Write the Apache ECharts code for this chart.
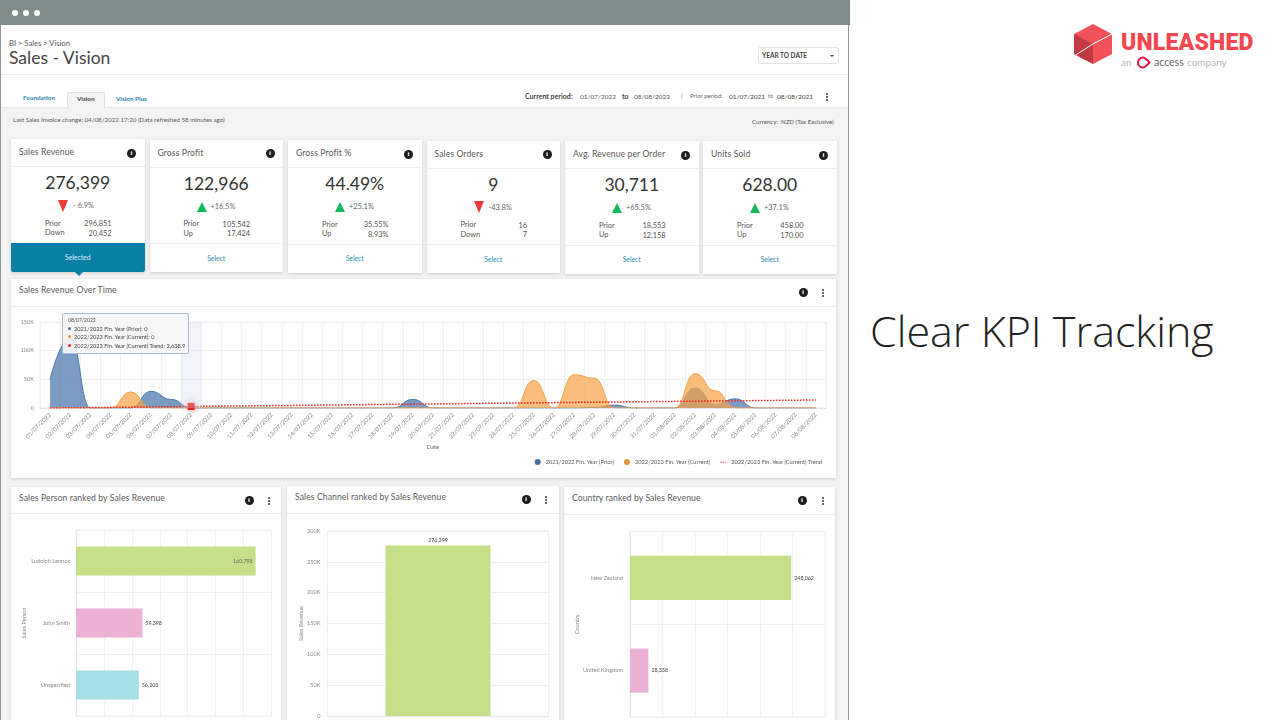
<!DOCTYPE html>
<html>
<head>
<meta charset="UTF-8">
<title>Sales - Vision</title>
<script src="https://cdn.jsdelivr.net/npm/echarts@6/dist/echarts.min.js"></script>
<style>
html,body{margin:0;padding:0;width:1280px;height:720px;overflow:hidden;background:#fff;font-family:Lato,"Open Sans",sans-serif;color:#444}
.a{position:absolute;white-space:nowrap}
#main{position:absolute;left:0;top:0;width:1280px;height:720px;z-index:5}
.card,.panel{position:absolute;background:#fff;box-shadow:0 1px 3px rgba(0,0,0,.16)}
.info{position:absolute;width:9px;height:9px;border-radius:50%;background:#1c1c1c;color:#fff;font:bold 7px/9px "Liberation Serif",serif;text-align:center}
.dots{position:absolute;width:2px;height:2px;background:#333;border-radius:50%;box-shadow:0 -3px 0 #333,0 3px 0 #333}
.up{position:absolute;width:0;height:0;border-left:5px solid transparent;border-right:5px solid transparent;border-bottom:10px solid #16b85c}
.down{position:absolute;width:0;height:0;border-left:5.5px solid transparent;border-right:5.5px solid transparent;border-top:12px solid #ef3b3b}
</style>
</head>
<body>
<div id="page"></div>
<div id="main"></div>
<script type="text/javascript">
// kpi cards
var kpiTitles = ['Sales Revenue', 'Gross Profit', 'Gross Profit %', 'Sales Orders', 'Avg. Revenue per Order', 'Units Sold'];
var kpiValues = ['276,399', '122,966', '44.49%', '9', '30,711', '628.00'];
var kpiChange = ['- 6.9%', '+16.5%', '+25.1%', '-43.8%', '+65.5%', '+37.1%'];
var kpiPrior = ['296,851', '105,542', '35.55%', '16', '18,553', '458.00'];
var kpiDiffLabel = ['Down', 'Up', 'Up', 'Down', 'Up', 'Up'];
var kpiDiff = ['20,452', '17,424', '8.93%', '7', '12,158', '170.00'];

// revenue over time
var dates = ['01/07/2022', '02/07/2022', '03/07/2022', '04/07/2022', '05/07/2022', '06/07/2022', '07/07/2022', '08/07/2022',
  '09/07/2022', '10/07/2022', '11/07/2022', '12/07/2022', '13/07/2022', '14/07/2022', '15/07/2022', '16/07/2022',
  '17/07/2022', '18/07/2022', '19/07/2022', '20/07/2022', '21/07/2022', '22/07/2022', '23/07/2022', '24/07/2022',
  '25/07/2022', '26/07/2022', '27/07/2022', '28/07/2022', '29/07/2022', '30/07/2022', '31/07/2022', '01/08/2022',
  '02/08/2022', '03/08/2022', '04/08/2022', '05/08/2022', '06/08/2022', '07/08/2022', '08/08/2022'];
var priorYear = [50000, 122000, 0, 0, 0, 29000, 15000, 0, 0, 0, 0, 0, 0, 0, 0, 0, 0, 0, 15000, 0, 0, 0, 0, 0, 0, 0, 0, 1000, 5000, 0, 0, 0, 35000, 6000, 16000, 0, 0, 0, 0];
var currentYear = [0, 0, 0, 0, 28000, 0, 0, 0, 0, 0, 0, 0, 0, 0, 0, 0, 0, 0, 0, 0, 0, 0, 0, 0, 48000, 0, 58000, 52000, 0, 0, 0, 0, 60000, 30000, 0, 0, 0, 0, 0];
// trend only read at a few spots, the line joins them
var trend = [0, null, null, null, null, null, null, 2638.9, null, null, null, null, null, null, null, null, null, null, 6800, null, null, null, null, null, null, null, null, null, 10500, null, null, null, null, null, null, null, null, null, 14000];
var hoverIndex = 7;
var priorName = '2021/2022 Fin. Year (Prior)';
var currentName = '2022/2023 Fin. Year (Current)';
var trendName = '2022/2023 Fin. Year (Current) Trend';

// ranked charts
var people = ['Ludolph Lennox', 'John Smith', 'Unspecified'];
var peopleRevenue = [160798, 59398, 56203];
var channelRevenue = [276399];
var countries = ['New Zealand', 'United Kingdom'];
var countryRevenue = [248062, 28338];

var green = '#c5e088', pink = '#ecb2d5', aqua = '#a5dfe6';
var gridLine = '#eef0f4', axisText = '#8a8a8a';

function txt(x, y, s, size, color, extra) {
  return '<div class="a" style="left:' + x + 'px;top:' + (y - size * 0.7) + 'px;font-size:' + size + 'px;line-height:' + (size * 1.4) + 'px;color:' + color + ';' + (extra || '') + '">' + s + '</div>';
}
function box(x, y, w, h, css) {
  return '<div class="a" style="left:' + x + 'px;top:' + y + 'px;width:' + w + 'px;height:' + h + 'px;' + css + '"></div>';
}
function panel(x, y, w, h, title, infoX, dotsX, headH) {
  var s = '<div class="panel" style="left:' + x + 'px;top:' + y + 'px;width:' + w + 'px;height:' + h + 'px"></div>';
  s += box(x, y + headH, w, 1, 'background:#eeeeee');
  s += txt(x + 8, y + 11, title, 8.6, '#5a5a5a', 'letter-spacing:.1px');
  s += '<div class="info" style="left:' + infoX + 'px;top:' + (y + 8.5) + 'px">i</div>';
  s += '<div class="dots" style="left:' + dotsX + 'px;top:' + (y + 12.5) + 'px"></div>';
  return s;
}

var h = '';
// window frame
h += box(0, 0, 850, 25, 'background:#7f8c8a');
h += box(0, 25, 849, 695, 'background:#f3f3f3;border-left:1px solid #8d9896;border-right:1px solid #8d9896;box-sizing:border-box');
h += box(1, 25, 847, 82, 'background:#fff');
h += box(1, 74, 847, 1, 'background:#eeeeee');
h += box(1, 107, 847, 1, 'background:#e6e6e6');
[15, 26, 37].forEach(function (x) { h += box(x - 3, 9.5, 6, 6, 'background:#fff;border-radius:50%'); });
h += txt(9, 43.5, 'BI &gt; Sales &gt; Vision', 7.6, '#555');
h += txt(9, 58, 'Sales - Vision', 17.5, '#444');
h += box(758, 47, 81, 17, 'background:#fff;border:1px solid #e4e4e4;border-radius:2px;box-sizing:border-box');
h += txt(762, 56, 'YEAR TO DATE', 6.5, '#444', 'font-weight:700');
h += box(830, 55, 0, 0, 'border-left:2px solid transparent;border-right:2px solid transparent;border-top:2.5px solid #444');
// tabs
h += box(67, 92, 38, 16, 'background:#f3f3f3;border:1px solid #e2e2e2;border-bottom:none;border-radius:2px 2px 0 0;box-sizing:border-box');
h += txt(23, 98.5, 'Foundation', 6.3, '#1f86ad', 'font-weight:700');
h += txt(77, 99, 'Vision', 6.3, '#444', 'font-weight:700');
h += txt(116, 99, 'Vision Plus', 6.3, '#1f86ad', 'font-weight:700');
// period line
h += txt(525, 96.5, 'Current period:', 7, '#444', 'font-weight:700');
h += txt(580, 96.5, '01/07/2022', 6.5, '#555');
h += txt(622, 96.5, 'to', 7, '#444', 'font-weight:700');
h += txt(634, 96.5, '08/08/2022', 6.5, '#555');
h += txt(681, 96.5, '|', 5.5, '#777');
h += txt(690, 96.5, 'Prior period:', 6, '#666');
h += txt(729, 96.5, '01/07/2021', 6.5, '#444');
h += txt(768, 96.5, 'to', 5.5, '#666');
h += txt(777, 96.5, '08/08/2021', 6.5, '#444');
h += '<div class="dots" style="left:825.5px;top:96px"></div>';
h += txt(13, 120.5, 'Last Sales Invoice change: 04/08/2022 17:20 (Data refreshed 58 minutes ago)', 6.2, '#555');
h += txt(752, 122.5, 'Currency:&nbsp; NZD (Tax Exclusive)', 6.1, '#555');

// kpi cards
var cardX = [11, 149.5, 288, 426.5, 565, 703];
var cardY = [139, 139.5, 140, 140.5, 141, 141];
kpiTitles.forEach(function (t, i) {
  var x = cardX[i], y = cardY[i], w = 133.5, isUp = kpiChange[i].charAt(0) == '+';
  h += '<div class="card" style="left:' + x + 'px;top:' + y + 'px;width:' + w + 'px;height:132.5px"></div>';
  h += box(x, y + 27, w, 1, 'background:#efefef');
  h += box(x, y + 103.5, w, 1, 'background:#efefef');
  h += txt(x + 8, y + 13.5, t, 8.6, '#5a5a5a', 'letter-spacing:.1px');
  h += '<div class="info" style="left:' + (x + 116) + 'px;top:' + (y + 9.5) + 'px">i</div>';
  h += '<div class="a" style="left:' + x + 'px;width:' + w + 'px;top:' + (y + 31) + 'px;text-align:center;font-size:17.5px;line-height:26px;color:#333">' + kpiValues[i] + '</div>';
  h += '<div class="' + (isUp ? 'up' : 'down') + '" style="left:' + (x + 47) + 'px;top:' + (y + (isUp ? 62 : 60.5)) + 'px"></div>';
  h += txt(x + (isUp ? 61 : 62), y + 67.5, kpiChange[i], 7.4, '#666');
  h += txt(x + 34, y + 85, 'Prior', 7.4, '#555');
  h += txt(x + 34, y + 94.5, kpiDiffLabel[i], 7.4, '#555');
  h += '<div class="a" style="left:' + x + 'px;width:' + (w - 33) + 'px;top:' + (y + 80) + 'px;text-align:right;font-size:7.4px;line-height:10px;color:#555">' + kpiPrior[i] + '</div>';
  h += '<div class="a" style="left:' + x + 'px;width:' + (w - 33) + 'px;top:' + (y + 89.5) + 'px;text-align:right;font-size:7.4px;line-height:10px;color:#555">' + kpiDiff[i] + '</div>';
  if (i == 0) {
    h += box(x, y + 104, w, 28.5, 'background:#0a7fa6;border-radius:0 0 2px 2px');
    h += box(x + 63.5, y + 132.5, 0, 0, 'border-left:4px solid transparent;border-right:4px solid transparent;border-top:4px solid #0a7fa6');
    h += '<div class="a" style="left:' + x + 'px;width:' + w + 'px;top:' + (y + 113) + 'px;text-align:center;font-size:6.8px;line-height:10px;color:#d8eef5">Selected</div>';
  } else {
    h += '<div class="a" style="left:' + x + 'px;width:' + w + 'px;top:' + (y + 113) + 'px;text-align:center;font-size:6.8px;line-height:10px;color:#2b8fb3">Select</div>';
  }
});

// chart panels
h += panel(11, 279, 825, 199, 'Sales Revenue Over Time', 798.5, 822, 27);
h += panel(11, 487, 270, 240, 'Sales Person ranked by Sales Revenue', 244.5, 268, 26);
h += panel(287, 486, 272, 240, 'Sales Channel ranked by Sales Revenue', 521.5, 545, 27);
h += panel(564, 487, 271, 240, 'Country ranked by Sales Revenue', 797.5, 822, 27);

// right side of the slide
h += txt(870, 331, 'Clear KPI Tracking', 43, '#222', 'font-family:\'Open Sans\';font-weight:300');
h += '<svg class="a" style="left:1072px;top:22px" width="44" height="44" viewBox="0 0 44 44">' +
  '<polygon points="21,2 40,12 40,32 21,42 2,32 2,12" fill="#f4525a"/>' +
  '<polygon points="2,12 21,22 21,42 2,32" fill="#c23a41"/>' +
  '<polyline points="2,34 21,22 40,12" fill="none" stroke="#fff" stroke-width="1"/></svg>';
h += txt(1121, 43.5, 'UNLEASHED', 23, '#f4474f', 'font-family:Roboto;font-weight:900;letter-spacing:.2px');
h += txt(1121, 62, 'an', 10, '#b9b9b9');
h += '<svg class="a" style="left:1135px;top:56px" width="17" height="13" viewBox="0 0 17 13"><path d="M8 1.5a5 5 0 1 0 0 10c2.3 0 3.6-2 6.5-5-2.9-3-4.2-5-6.5-5z" fill="none" stroke="#e0123f" stroke-width="2"/></svg>';
h += txt(1154, 62, 'access', 10.5, '#666');
h += txt(1187, 62, 'company', 10, '#b9b9b9');
document.getElementById('page').innerHTML = h;

var labelFont = { fontFamily: 'Lato', fontSize: 5.6, color: axisText };
function splits() { return { show: true, lineStyle: { color: gridLine, width: 1 } }; }
function valueLabel(pos, color) {
  return { show: true, position: pos, distance: 3, fontFamily: 'Lato', fontSize: 5.3, color: color || '#444',
    formatter: function (p) { return p.value.toLocaleString('en-US'); } };
}
function kLabel(v) { return v == 0 ? '0' : (v / 1000) + 'K'; }
function colored(values, colors) {
  return values.map(function (v, i) { return { value: v, itemStyle: { color: colors[i] } }; });
}

var myChart = echarts.init(document.getElementById('main'), null, { renderer: 'canvas' });
var option = {
  animation: false,
  backgroundColor: 'transparent',
  textStyle: { fontFamily: 'Lato' },
  grid: [
    { left: 40, top: 322, width: 786, height: 86, show: true, borderColor: gridLine, borderWidth: 1 },
    { left: 76, top: 530, width: 195.5, height: 186, show: true, borderColor: gridLine, borderWidth: 1 },
    { left: 327.5, top: 531, width: 221, height: 185, show: true, borderColor: gridLine, borderWidth: 1 },
    { left: 630, top: 531.5, width: 195, height: 185.5, show: true, borderColor: gridLine, borderWidth: 1 }
  ],
  tooltip: {
    trigger: 'axis',
    triggerOn: 'none',
    alwaysShowContent: true,
    transitionDuration: 0,
    axisPointer: { type: 'shadow', shadowStyle: { color: 'rgba(205,216,238,0.3)' } },
    position: function () { return [62, 312.5]; },
    backgroundColor: 'rgba(246,246,246,0.92)',
    borderColor: '#a9bbd0',
    borderWidth: 1.5,
    borderRadius: 2,
    padding: [3, 3, 3, 5],
    extraCssText: 'box-shadow:none;',
    textStyle: { fontFamily: 'Lato', fontSize: 5.65, color: '#444' },
    formatter: function (params) {
      var s = '<div style="font-size:5px;line-height:7.5px">' + params[0].axisValue + '</div>';
      params.forEach(function (p) {
        var v = p.value == null ? 0 : p.value;
        var shown = v.toLocaleString('en-US', { maximumFractionDigits: 1 });
        s += '<div style="line-height:8.5px"><span style="display:inline-block;width:3px;height:3px;border-radius:50%;margin-right:3px;vertical-align:1px;background:' + p.color + '"></span>' + p.seriesName + ': ' + shown + '</div>';
      });
      return s;
    }
  },
  legend: {
    right: 453,
    top: 454,
    itemGap: 10,
    itemWidth: 6,
    itemHeight: 6,
    textStyle: { fontFamily: 'Lato', fontSize: 5.7, color: '#555' },
    data: [{ name: priorName, icon: 'circle' }, { name: currentName, icon: 'circle' },
      { name: trendName, icon: 'path://M0 0h2v1H0zM3 0h2v1H3zM6 0h2v1H6z' }]
  },
  xAxis: [
    {
      gridIndex: 0, type: 'category', data: dates, name: 'Date', nameLocation: 'middle', nameGap: 36, nameMoveOverlap: false,
      nameTextStyle: { fontFamily: 'Lato', fontSize: 5.8, color: '#666' },
      axisTick: { show: false }, axisLine: { lineStyle: { color: '#dfe6f0' } }, splitLine: splits(),
      axisLabel: { interval: 0, rotate: 45, fontFamily: 'Lato', fontSize: 6, color: axisText, margin: 6 }
    },
    { gridIndex: 1, type: 'value', min: 0, max: 175000, interval: 25000, axisLabel: { show: false }, axisLine: { show: false }, axisTick: { show: false }, splitLine: splits() },
    { gridIndex: 2, type: 'category', data: ['Sales Channel'], axisLabel: { show: false }, axisTick: { show: false }, axisLine: { lineStyle: { color: '#dfe6f0' } }, splitLine: { show: false } },
    { gridIndex: 3, type: 'value', min: 0, max: 300000, interval: 50000, axisLabel: { show: false }, axisLine: { show: false }, axisTick: { show: false }, splitLine: splits() }
  ],
  yAxis: [
    {
      gridIndex: 0, type: 'value', min: 0, max: 150000, interval: 50000,
      axisLabel: Object.assign({ formatter: kLabel, margin: 6 }, labelFont),
      axisLine: { show: false }, axisTick: { show: false }, splitLine: splits()
    },
    {
      gridIndex: 1, type: 'category', data: people, inverse: true, name: 'Sales Person', nameLocation: 'middle', nameGap: 48.5, nameMoveOverlap: false,
      nameTextStyle: labelFont, axisLabel: Object.assign({ margin: 6 }, labelFont),
      axisTick: { show: false }, axisLine: { lineStyle: { color: '#dfe6f0' } }, splitLine: splits()
    },
    {
      gridIndex: 2, type: 'value', min: 0, max: 300000, interval: 50000, name: 'Sales Revenue', nameLocation: 'middle', nameGap: 23, nameMoveOverlap: false,
      nameTextStyle: labelFont, axisLabel: Object.assign({ formatter: kLabel, margin: 7 }, labelFont),
      axisLine: { show: false }, axisTick: { show: false }, splitLine: splits()
    },
    {
      gridIndex: 3, type: 'category', data: countries, inverse: true, name: 'Country', nameLocation: 'middle', nameGap: 50, nameMoveOverlap: false,
      nameTextStyle: labelFont, axisLabel: Object.assign({ margin: 7 }, labelFont),
      axisTick: { show: false }, axisLine: { lineStyle: { color: '#dfe6f0' } }, splitLine: splits()
    }
  ],
  series: [
    {
      name: priorName, type: 'line', xAxisIndex: 0, yAxisIndex: 0, data: priorYear, smooth: true, smoothMonotone: 'x',
      symbol: 'none', z: 2, itemStyle: { color: '#466f9f' }, lineStyle: { color: '#466f9f', width: 1 },
      areaStyle: { color: '#466f9f', opacity: 0.75 }
    },
    {
      name: currentName, type: 'line', xAxisIndex: 0, yAxisIndex: 0, data: currentYear, smooth: true, smoothMonotone: 'x',
      symbol: 'none', z: 3, itemStyle: { color: '#e0943f' }, lineStyle: { color: '#e0943f', width: 1 },
      areaStyle: { color: '#e0943f', opacity: 0.7 }
    },
    {
      name: trendName, type: 'line', xAxisIndex: 0, yAxisIndex: 0, data: trend, connectNulls: true,
      symbol: 'none', z: 4, itemStyle: { color: '#f02020' }, lineStyle: { color: '#f02020', width: 1.5, type: [1.5, 1.5] },
      markPoint: {
        symbol: 'rect', symbolSize: 7, silent: true, label: { show: false },
        itemStyle: { color: '#f51a1a', shadowBlur: 7, shadowColor: 'rgba(200,60,60,0.7)' },
        data: [{ coord: [dates[hoverIndex], trend[hoverIndex]] }]
      }
    },
    {
      type: 'bar', xAxisIndex: 1, yAxisIndex: 1, barWidth: '47%', silent: true,
      data: colored(peopleRevenue, [green, pink, aqua]).map(function (d, i) {
        d.label = i == 0 ? valueLabel('insideRight', '#666') : valueLabel('right');
        return d;
      })
    },
    {
      type: 'bar', xAxisIndex: 2, yAxisIndex: 2, barWidth: '47.5%', silent: true,
      data: colored(channelRevenue, [green]), label: valueLabel('top')
    },
    {
      type: 'bar', xAxisIndex: 3, yAxisIndex: 3, barWidth: '47.5%', silent: true,
      data: colored(countryRevenue, [green, pink]), label: valueLabel('right')
    }
  ]
};
myChart.setOption(option);
myChart.dispatchAction({ type: 'showTip', seriesIndex: 0, dataIndex: hoverIndex });
</script>
</body>
</html>
